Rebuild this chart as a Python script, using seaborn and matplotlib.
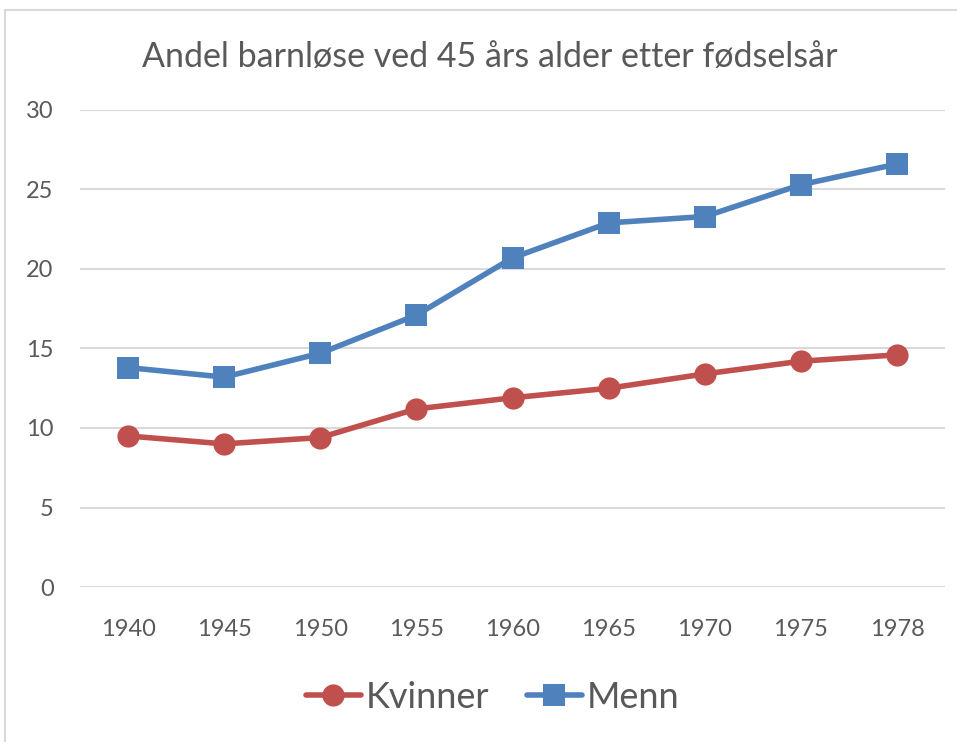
import matplotlib
matplotlib.use("Agg")
import matplotlib.pyplot as plt
import seaborn as sns
import pandas as pd
from matplotlib.lines import Line2D

years = ["1940", "1945", "1950", "1955", "1960", "1965", "1970", "1975", "1978"]
kvinner = [9.5, 9.0, 9.4, 11.2, 11.9, 12.5, 13.4, 14.2, 14.6]
menn = [13.8, 13.2, 14.7, 17.1, 20.7, 22.9, 23.3, 25.3, 26.6]
series_names = ["Kvinner", "Menn"]
title = "Andel barnløse ved 45 års alder etter fødselsår"

df = pd.DataFrame({
    "year": years * 2,
    "value": kvinner + menn,
    "series": [series_names[0]] * len(years) + [series_names[1]] * len(years),
})

sns.set_theme(style="white")
plt.rcParams['font.family'] = ['Lato', 'DejaVu Sans']

colors = {"Kvinner": "#C0504D", "Menn": "#4F81BD"}
markers = {"Kvinner": "o", "Menn": "s"}
text_color = "#595959"

fig = plt.figure(figsize=(9.57, 7.42), dpi=100)
ax = fig.add_axes([80/957, 1 - 587/742, (945-80)/957, (587-110)/742])

sns.lineplot(data=df, x="year", y="value", hue="series", style="series",
             palette=colors, markers=markers, dashes=False, linewidth=4,
             markersize=16, markeredgewidth=0, ax=ax, legend=False, sort=False)

ax.set_xlim(-0.5, len(years) - 0.5)
ax.set_ylim(0, 30)
ax.set_yticks(range(0, 31, 5))
ax.yaxis.grid(True, color="#D9D9D9", linewidth=1.5)
ax.set_axisbelow(True)
for s in ax.spines.values():
    s.set_visible(False)
ax.set_xlabel("")
ax.set_ylabel("")
ax.tick_params(axis="both", length=0, labelsize=17, colors=text_color)
ax.tick_params(axis="x", pad=23)
ax.tick_params(axis="y", pad=19)

fig.text(490/957, 1 - 57/742, title, ha="center", va="center",
         fontsize=24.5, color=text_color)

handles = [Line2D([0], [0], color=colors[n], marker=markers[n], linewidth=4,
                  markersize=16, markeredgewidth=0) for n in series_names]
fig.legend(handles, series_names, loc="center", bbox_to_anchor=(493/957, 1 - 697/742),
           ncol=2, frameon=False, fontsize=26, labelcolor=text_color,
           handlelength=1.5, handletextpad=0.15, columnspacing=1.05)

# outer chart border (left and top)
fig.add_artist(Line2D([5/957, 5/957], [0, 1 - 10/742], color="#D9D9D9", linewidth=1.5,
                      transform=fig.transFigure))
fig.add_artist(Line2D([5/957, 1], [1 - 10/742, 1 - 10/742], color="#D9D9D9", linewidth=1.5,
                      transform=fig.transFigure))

fig.savefig("out.png", dpi=100, facecolor="white")
